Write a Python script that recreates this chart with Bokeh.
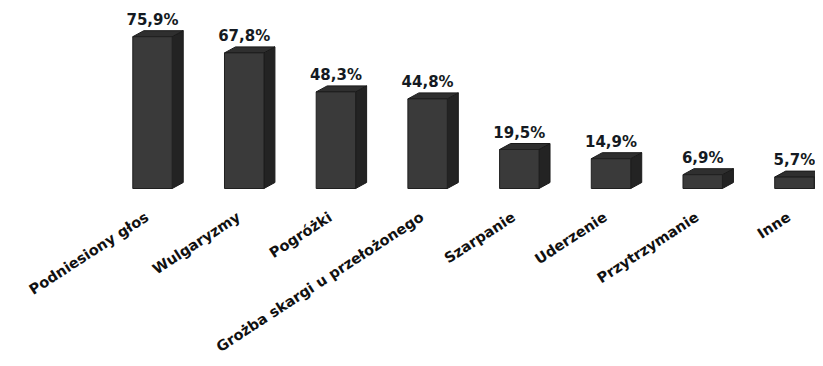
import math
from bokeh.plotting import figure
from bokeh.models import ColumnDataSource, Range1d
from bokeh.core.properties import value
from bokeh.embed import file_html
from bokeh.resources import INLINE

categories = ["Podniesiony głos", "Wulgaryzmy", "Pogróżki", "Grożba skargi u przełożonego",
              "Szarpanie", "Uderzenie", "Przytrzymanie", "Inne"]
values = [75.9, 67.8, 48.3, 44.8, 19.5, 14.9, 6.9, 5.7]
value_labels = ["75,9%", "67,8%", "48,3%", "44,8%", "19,5%", "14,9%", "6,9%", "5,7%"]

# style constants (3D look)
W = 0.43      # front face width (x units)
DX = 0.12     # depth in x
DY = 3.0      # depth in y
FRONT = "#3a3a3a"
SIDE = "#232323"
TOP = "#2f2f2f"

idx = list(range(len(values)))

p = figure(width=815, height=358, output_backend="svg", toolbar_location=None,
           x_range=Range1d(-1.6576, 7.230), y_range=Range1d(-85, 94),
           min_border=0, background_fill_color="white", border_fill_color="white")
p.axis.visible = False
p.xgrid.visible = False
p.ygrid.visible = False
p.outline_line_color = None

src = ColumnDataSource(dict(x=idx, top=values))

side_xs, side_ys, top_xs, top_ys = [], [], [], []
for i, v in zip(idx, values):
    r = i + W / 2
    l = i - W / 2
    side_xs.append([r, r + DX, r + DX, r])
    side_ys.append([0, DY, v + DY, v])
    top_xs.append([l, l + DX, r + DX, r])
    top_ys.append([v, v + DY, v + DY, v])

p.patches(side_xs, side_ys, fill_color=SIDE, line_color="#1a1a1a", line_width=1)
p.patches(top_xs, top_ys, fill_color=TOP, line_color="#1a1a1a", line_width=1)
p.vbar(x="x", top="top", bottom=0, width=W, source=src,
       fill_color=FRONT, line_color="#1f1f1f", line_width=1)

lab_src = ColumnDataSource(dict(x=idx, y=[v + DY + 5.5 for v in values], lab=value_labels))
p.text(x="x", y="y", text="lab", source=lab_src, text_align="center",
       text_baseline="alphabetic", text_font=value("DejaVu Sans"), text_font_style="bold",
       text_font_size="15px", text_color="#141a22")

cat_src = ColumnDataSource(dict(x=[i - 0.06 for i in idx], y=[-13.5] * len(idx), cat=categories))
p.text(x="x", y="y", text="cat", source=cat_src, angle=math.radians(33),
       text_align="right", text_baseline="middle", text_font=value("DejaVu Sans"),
       text_font_style="bold", text_font_size="14.5px", text_color="#111111")

open("out.html", "w").write(file_html(p, INLINE))
